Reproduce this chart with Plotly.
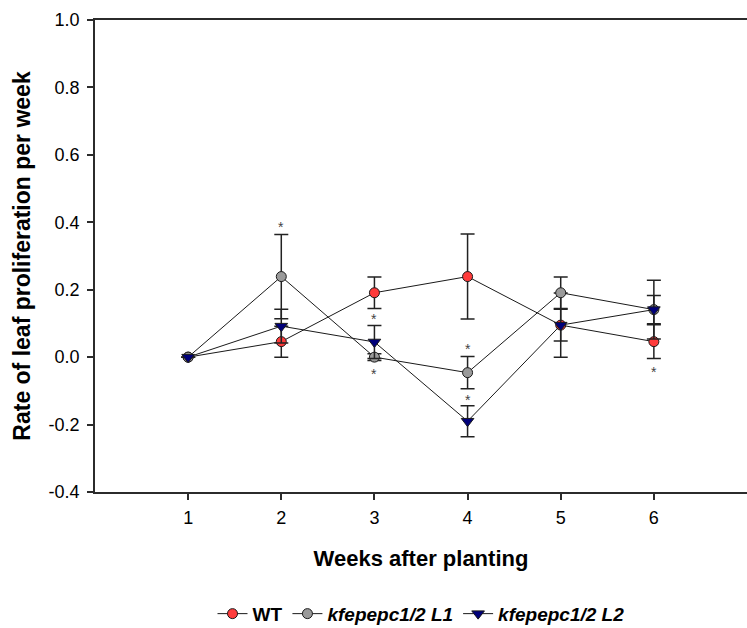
import plotly.graph_objects as go

# Weekly leaf proliferation rate (mean ± error) for each line
weeks = [1, 2, 3, 4, 5, 6]

wt_rate = [0.0, 0.046, 0.191, 0.239, 0.095, 0.046]
wt_err = [0.0, 0.046, 0.047, 0.126, 0.095, 0.050]

l1_rate = [0.0, 0.239, 0.0, -0.046, 0.191, 0.141]
l1_err = [0.0, 0.125, 0.010, 0.048, 0.047, 0.087]

l2_rate = [0.0, 0.092, 0.045, -0.190, 0.095, 0.141]
l2_err = [0.0, 0.050, 0.049, 0.046, 0.047, 0.042]

# Significance asterisks
star_x = [2, 3, 3, 4, 4, 6]
star_y = [0.396, 0.122, -0.042, 0.033, -0.118, -0.034]

y_ticks = [-0.4, -0.2, 0.0, 0.2, 0.4, 0.6, 0.8, 1.0]

FONT = "Liberation Sans, Arial, sans-serif"

series = [
    ("<b>WT</b>", wt_rate, wt_err, "circle", "#ff3b3b", 10),
    ("<b><i>kfepepc1/2 L1</i></b>", l1_rate, l1_err, "circle", "#9a9a9a", 10),
    ("<b><i>kfepepc1/2 L2</i></b>", l2_rate, l2_err, "triangle-down", "#00007a", 11),
]

fig = go.Figure()
for name, rate, err, symbol, color, size in series:
    fig.add_trace(go.Scatter(
        x=weeks, y=rate, name=name, mode="lines+markers",
        line=dict(color="#1a1a1a", width=1),
        marker=dict(symbol=symbol, color=color, size=size,
                    line=dict(color="#1a1a1a", width=1)),
        error_y=dict(type="data", array=err, visible=True,
                     color="#222222", thickness=1.5, width=7),
    ))

for sx, sy in zip(star_x, star_y):
    fig.add_annotation(x=sx, y=sy, text="*", showarrow=False,
                       font=dict(family=FONT, size=14, color="#444444"),
                       yshift=-3)

fig.update_layout(
    width=747, height=628,
    margin=dict(l=95, r=0, t=20, b=136, autoexpand=False),
    paper_bgcolor="white", plot_bgcolor="white",
    font=dict(family=FONT, color="black"),
    showlegend=True,
    legend=dict(orientation="h", x=0.5, xanchor="center",
                y=-0.258, yanchor="middle",
                font=dict(family=FONT, size=19, color="black"),
                itemwidth=30, tracegroupgap=0),
)

fig.update_xaxes(
    range=[0, 7], tickvals=weeks, ticktext=[str(w) for w in weeks],
    showgrid=False, zeroline=False, automargin=False,
    showline=True, linecolor="#2b2b2b", linewidth=1.5, mirror=True,
    ticks="outside", ticklen=6, tickwidth=1.5, tickcolor="#2b2b2b",
    tickfont=dict(family=FONT, size=18, color="black"),
    ticklabelstandoff=3,
    title=dict(text="<b>Weeks after planting</b>",
               font=dict(family=FONT, size=22, color="black"), standoff=23),
)

fig.update_yaxes(
    range=[-0.4, 1.0], tickvals=y_ticks,
    ticktext=[f"{v:.1f}" for v in y_ticks],
    showgrid=False, zeroline=False, automargin=False,
    showline=True, linecolor="#2b2b2b", linewidth=1.5, mirror=False,
    ticks="outside", ticklen=6, tickwidth=1.5, tickcolor="#2b2b2b",
    tickfont=dict(family=FONT, size=18, color="black"),
    ticklabelstandoff=4,
    title=dict(text="<b>Rate of leaf proliferation per week</b>",
               font=dict(family=FONT, size=23, color="black"), standoff=12),
)

fig.write_html("out.html")
